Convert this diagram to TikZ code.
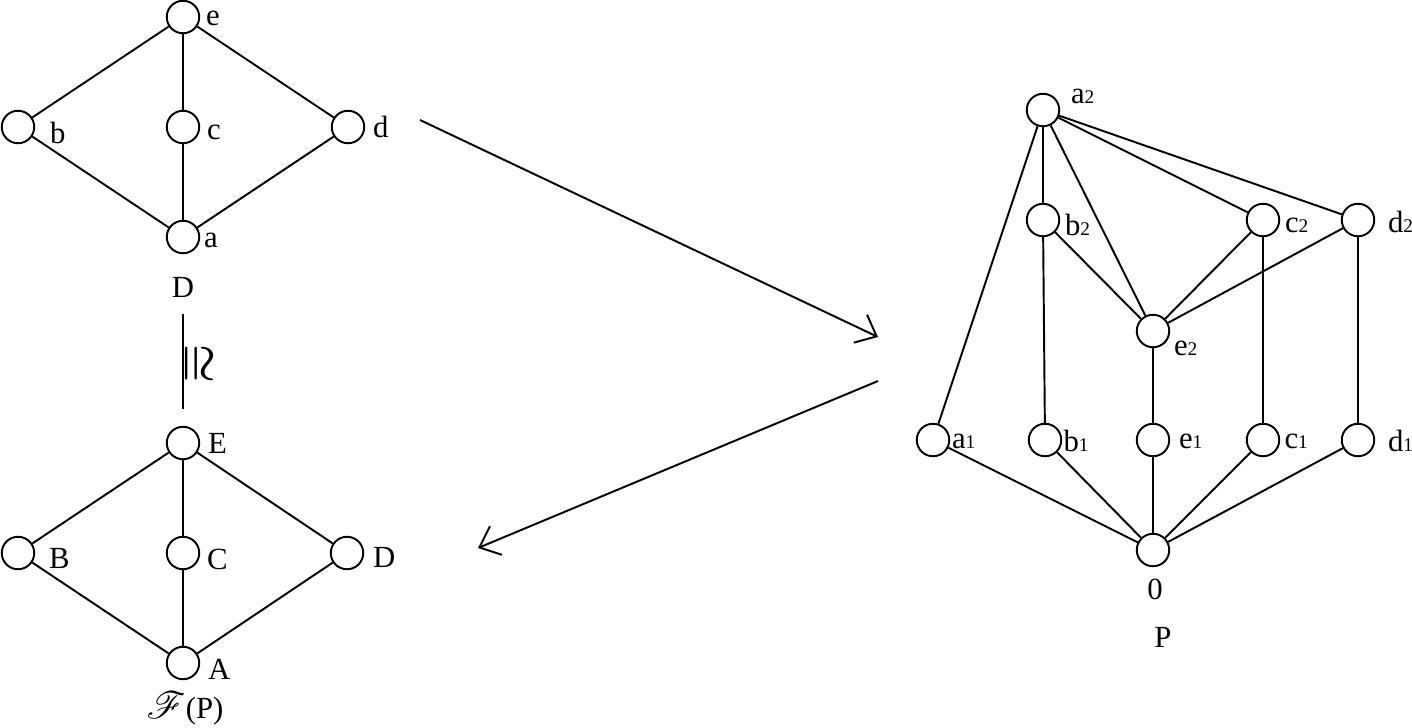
\documentclass[tikz,border=0pt]{standalone}
\usepackage{fontspec}
\usepackage{mathrsfs}
\setmainfont{Liberation Serif}
\usetikzlibrary{arrows.meta,positioning}

\newcommand{\subn}[1]{{\fontsize{11}{13}\selectfont #1}}

\begin{document}
\begin{tikzpicture}[
            x=0.02cm, y=-0.02cm,
            vtx/.style={circle, draw, minimum size=0.65cm, inner sep=0pt, line width=1.1pt},
            lbl/.style={inner sep=0pt, font=\fontsize{17.5}{20}\selectfont},
            edge/.style={line width=1.1pt},
            arrow/.style={line width=1.1pt, -{Straight Barb[length=0.36cm, width=0.62cm, line width=1.1pt]}}
        ]
        \useasboundingbox (0,0) rectangle (1412,727);

        % lattice D
        \node[vtx] (d_e) at (183,17) {};
        \node[vtx] (d_b) at (18,127) {};
        \node[vtx] (d_c) at (183,127) {};
        \node[vtx] (d_d) at (348,127) {};
        \node[vtx] (d_a) at (183,237) {};
        \node[lbl, right=0.11cm of d_e, yshift=-0.02cm] (l_d_e) {e};
        \node[lbl, right=0.29cm of d_b, yshift=-0.12cm] (l_d_b) {b};
        \node[lbl, right=0.13cm of d_c, yshift=-0.1cm] (l_d_c) {c};
        \node[lbl, right=0.15cm of d_d] (l_d_d) {d};
        \node[lbl, right=0.07cm of d_a, yshift=-0.06cm] (l_d_a) {a};
        \node[lbl, below=0.46cm of d_a] (name_d) {D};

        \draw[edge] (d_e) -- (d_b);
        \draw[edge] (d_e) -- (d_c);
        \draw[edge] (d_e) -- (d_d);
        \draw[edge] (d_b) -- (d_a);
        \draw[edge] (d_c) -- (d_a);
        \draw[edge] (d_d) -- (d_a);

        % lattice F(P)
        \node[vtx] (f_e) at (183,443) {};
        \node[vtx] (f_b) at (18,553) {};
        \node[vtx] (f_c) at (183,553) {};
        \node[vtx] (f_d) at (347,553) {};
        \node[vtx] (f_a) at (183,663) {};
        \node[lbl, right=0.15cm of f_e] (l_f_e) {E};
        \node[lbl, right=0.27cm of f_b, yshift=-0.1cm] (l_f_b) {B};
        \node[lbl, right=0.13cm of f_c, yshift=-0.12cm] (l_f_c) {C};
        \node[lbl, right=0.17cm of f_d, yshift=-0.08cm] (l_f_d) {D};
        \node[lbl, right=0.15cm of f_a, yshift=-0.12cm] (l_f_a) {A};
        \node[lbl] (name_f) at (185,708) {\scalebox{1.25}{$\mathscr{F}$}(P)};

        \draw[edge] (f_e) -- (f_b);
        \draw[edge] (f_e) -- (f_c);
        \draw[edge] (f_e) -- (f_d);
        \draw[edge] (f_b) -- (f_a);
        \draw[edge] (f_c) -- (f_a);
        \draw[edge] (f_d) -- (f_a);

        % isomorphism
        \draw[edge, shorten <=0.32cm, shorten >=0.33cm] (name_d) -- (f_e);
        \node[inner sep=0pt, font=\fontsize{27}{30}\selectfont] (iso) at (197,364) {\rotatebox{-90}{\boldmath$\cong$}};

        % poset P
        \node[vtx] (p_a2) at (1043,110) {};
        \node[vtx] (p_b2) at (1043,220) {};
        \node[vtx] (p_c2) at (1263,220) {};
        \node[vtx] (p_d2) at (1358,220) {};
        \node[vtx] (p_e2) at (1153,331) {};
        \node[vtx] (p_a1) at (933,440) {};
        \node[vtx] (p_b1) at (1045,440) {};
        \node[vtx] (p_e1) at (1153,440) {};
        \node[vtx] (p_c1) at (1263,440) {};
        \node[vtx] (p_d1) at (1358,440) {};
        \node[vtx] (p_0) at (1153,550) {};
        \node[lbl, right=0.21cm of p_a2, yshift=0.28cm] (l_a2) {a\subn{2}};
        \node[lbl, right=0.09cm of p_b2, yshift=-0.1cm] (l_b2) {b\subn{2}};
        \node[lbl, right=0.09cm of p_c2, yshift=-0.1cm] (l_c2) {c\subn{2}};
        \node[lbl, right=0.25cm of p_d2, yshift=-0.04cm] (l_d2) {d\subn{2}};
        \node[lbl, right=0.07cm of p_e2, yshift=-0.34cm] (l_e2) {e\subn{2}};
        \node[lbl, right=0.03cm of p_a1, yshift=-0.02cm] (l_a1) {a\subn{1}};
        \node[lbl, right=0.02cm of p_b1, yshift=-0.02cm] (l_b1) {b\subn{1}};
        \node[lbl, right=0.17cm of p_e1, yshift=-0.02cm] (l_e1) {e\subn{1}};
        \node[lbl, right=0.08cm of p_c1, yshift=-0.02cm] (l_c1) {c\subn{1}};
        \node[lbl, right=0.25cm of p_d1, yshift=-0.02cm] (l_d1) {d\subn{1}};
        \node[lbl, below=0.23cm of p_0, xshift=0.04cm] (l_0) {0};
        \node[lbl] (name_p) at (1163,637) {P};

        \draw[edge] (p_a2) -- (p_a1);
        \draw[edge] (p_a2) -- (p_b2);
        \draw[edge] (p_a2) -- (p_e2);
        \draw[edge] (p_a2) -- (p_c2);
        \draw[edge] (p_a2) -- (p_d2);
        \draw[edge] (p_b2) -- (p_e2);
        \draw[edge] (p_c2) -- (p_e2);
        \draw[edge] (p_d2) -- (p_e2);
        \draw[edge] (p_b2) -- (p_b1);
        \draw[edge] (p_e2) -- (p_e1);
        \draw[edge] (p_c2) -- (p_c1);
        \draw[edge] (p_d2) -- (p_d1);
        \draw[edge] (p_a1) -- (p_0);
        \draw[edge] (p_b1) -- (p_0);
        \draw[edge] (p_e1) -- (p_0);
        \draw[edge] (p_c1) -- (p_0);
        \draw[edge] (p_d1) -- (p_0);

        % maps between D and P
        \coordinate (map_s) at (420,120);
        \coordinate (map_t) at (878,337);
        \coordinate (back_s) at (878,381);
        \coordinate (back_t) at (478,548);
        \draw[arrow] (map_s) -- (map_t);
        \draw[arrow] (back_s) -- (back_t);

        \end{tikzpicture}
\end{document}
